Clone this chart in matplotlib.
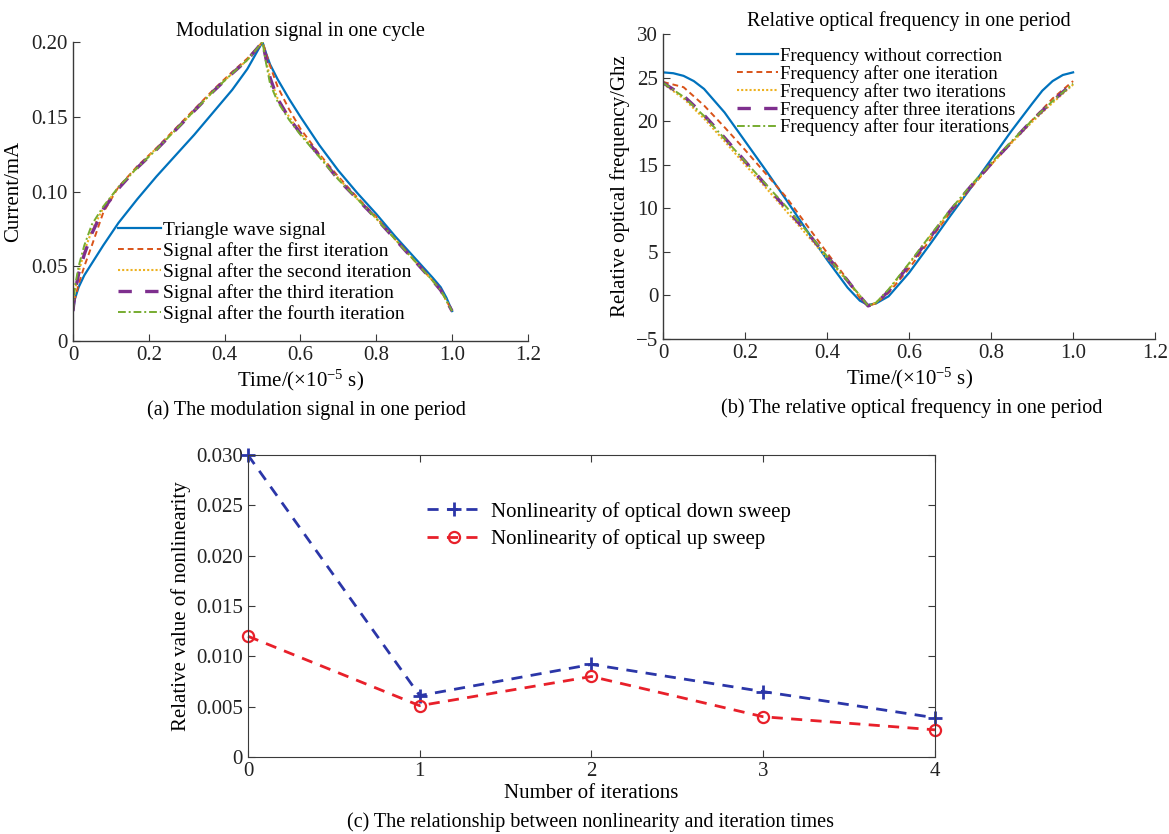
import matplotlib
matplotlib.use('Agg')
import matplotlib.pyplot as plt

plt.rcParams['font.family'] = ['Liberation Serif', 'DejaVu Serif']
plt.rcParams['mathtext.default'] = 'regular'
plt.rcParams['axes.unicode_minus'] = True

# (a) modulation signal, time in 1e-5 s
t_up = [0, 0.005, 0.015, 0.03, 0.05, 0.08, 0.12, 0.17, 0.22, 0.27, 0.32, 0.37, 0.42, 0.46, 0.5]
t_down = [0.51, 0.52, 0.54, 0.57, 0.6, 0.65, 0.7, 0.75, 0.8, 0.85, 0.9, 0.95, 0.97, 0.985, 1.0]
time_a = t_up + t_down

tri_wave = [0.020, 0.028, 0.036, 0.044, 0.052, 0.064, 0.079, 0.095, 0.110, 0.124, 0.138, 0.153, 0.168, 0.182, 0.200,
            0.192, 0.185, 0.175, 0.162, 0.150, 0.131, 0.114, 0.099, 0.085, 0.070, 0.056, 0.042, 0.036, 0.029, 0.020]
iter1 = [0.020, 0.028, 0.038, 0.050, 0.064, 0.086, 0.103, 0.117, 0.129, 0.142, 0.155, 0.168, 0.180, 0.189, 0.200,
         0.192, 0.184, 0.170, 0.155, 0.142, 0.125, 0.110, 0.096, 0.083, 0.068, 0.054, 0.040, 0.034, 0.027, 0.020]
iter2 = [0.020, 0.033, 0.046, 0.060, 0.074, 0.089, 0.103, 0.116, 0.129, 0.141, 0.154, 0.167, 0.179, 0.188, 0.200,
         0.187, 0.176, 0.162, 0.150, 0.139, 0.124, 0.109, 0.095, 0.082, 0.068, 0.054, 0.040, 0.034, 0.027, 0.020]
iter3 = [0.020, 0.032, 0.045, 0.058, 0.072, 0.088, 0.102, 0.116, 0.128, 0.141, 0.154, 0.167, 0.179, 0.188, 0.200,
         0.188, 0.176, 0.162, 0.149, 0.139, 0.124, 0.108, 0.095, 0.082, 0.068, 0.054, 0.040, 0.034, 0.027, 0.020]
iter4 = [0.020, 0.036, 0.050, 0.064, 0.078, 0.090, 0.103, 0.116, 0.128, 0.141, 0.154, 0.167, 0.179, 0.188, 0.200,
         0.185, 0.172, 0.160, 0.148, 0.138, 0.123, 0.108, 0.095, 0.082, 0.068, 0.054, 0.040, 0.034, 0.027, 0.020]

# (b) relative optical frequency, GHz
time_b0 = [0, 0.025, 0.05, 0.075, 0.1, 0.15, 0.2, 0.25, 0.3, 0.35, 0.4, 0.45, 0.48, 0.5, 0.52, 0.55,
           0.6, 0.65, 0.7, 0.75, 0.8, 0.85, 0.9, 0.925, 0.95, 0.975, 1.0]
freq0 = [25.6, 25.5, 25.2, 24.6, 23.7, 21.0, 17.7, 14.4, 11.0, 7.5, 4.1, 0.9, -0.6, -1.1, -0.9, -0.1,
         2.6, 5.8, 9.1, 12.3, 15.6, 18.9, 22.0, 23.5, 24.6, 25.3, 25.6]
time_b = [0, 0.05, 0.1, 0.15, 0.2, 0.25, 0.3, 0.35, 0.4, 0.45, 0.48, 0.5, 0.52, 0.55,
          0.6, 0.65, 0.7, 0.75, 0.8, 0.85, 0.9, 0.95, 1.0]
freq1 = [24.5, 23.9, 21.8, 19.3, 16.7, 14.0, 11.3, 8.1, 4.9, 1.8, -0.3, -1.2, -0.9, 0.3,
         3.1, 6.3, 9.5, 12.3, 15.0, 17.6, 20.1, 22.6, 24.6]
freq2 = [24.3, 22.6, 20.3, 17.7, 15.0, 12.4, 9.7, 7.0, 4.3, 1.6, 0.0, -1.2, -0.8, 0.6,
         3.6, 6.7, 9.6, 12.4, 15.0, 17.5, 19.9, 22.1, 24.2]
freq3 = [24.4, 22.9, 20.7, 18.1, 15.4, 12.7, 10.0, 7.3, 4.5, 1.7, -0.1, -1.2, -0.9, 0.5,
         3.5, 6.6, 9.7, 12.5, 15.1, 17.6, 20.1, 22.3, 24.4]
freq4 = [24.4, 22.8, 20.6, 18.0, 15.4, 12.8, 10.2, 7.4, 4.5, 1.7, 0.0, -1.2, -0.8, 0.7,
         3.7, 6.8, 9.8, 12.6, 15.2, 17.7, 20.1, 22.3, 24.3]

# (c) nonlinearity vs iterations
iterations = [0, 1, 2, 3, 4]
down_sweep = [0.0300, 0.0061, 0.0092, 0.0065, 0.0039]
up_sweep = [0.0120, 0.0051, 0.0080, 0.0040, 0.0027]

c_blue = '#0072BD'
c_red = '#D95319'
c_yel = '#EDB120'
c_pur = '#7E2F8E'
c_grn = '#77AC30'
axcol = '#3a3a3a'

fig = plt.figure(figsize=(11.69, 8.34), dpi=100)


def style_open(ax):
    ax.spines['top'].set_visible(False)
    ax.spines['right'].set_visible(False)
    for s in ['left', 'bottom']:
        ax.spines[s].set_color(axcol)
        ax.spines[s].set_linewidth(1.0)
    ax.tick_params(direction='in', length=5, colors=axcol, labelsize=15, labelcolor='#222222')


# Plot (a)
ax1 = fig.add_axes([0.0624, 0.5911, 0.3892, 0.3585])
ax1.plot(time_a, tri_wave, color=c_blue, lw=1.6, label='Triangle wave signal')
ax1.plot(time_a, iter1, color=c_red, lw=1.4, ls=(0, (3, 2)), label='Signal after the first iteration')
ax1.plot(time_a, iter2, color=c_yel, lw=1.5, ls=(0, (1, 1)), label='Signal after the second iteration')
ax1.plot(time_a, iter3, color=c_pur, lw=2.4, ls=(0, (4, 4)), label='Signal after the third iteration')
ax1.plot(time_a, iter4, color=c_grn, lw=1.4, ls=(0, (4, 1.5, 1, 1.5)), label='Signal after the fourth iteration')
ax1.set_xlim(0, 1.2)
ax1.set_ylim(0, 0.2)
ax1.set_xticks([0, 0.2, 0.4, 0.6, 0.8, 1.0, 1.2])
ax1.set_xticklabels(['0', '0.2', '0.4', '0.6', '0.8', '1.0', '1.2'])
ax1.set_yticks([0, 0.05, 0.10, 0.15, 0.20])
ax1.set_yticklabels(['0', '0.05', '0.10', '0.15', '0.20'])
style_open(ax1)
ax1.set_xlabel('Time/(×10$^{-5}$ s)', fontsize=15, labelpad=2)
ax1.set_ylabel('Current/mA', fontsize=15, labelpad=6)
ax1.set_title('Modulation signal in one cycle', fontsize=14.5, pad=4)
ax1.legend(loc='upper left', bbox_to_anchor=(0.10, 0.40), frameon=False, fontsize=14,
           handlelength=2.2, handletextpad=0.1, labelspacing=0.16, borderpad=0, borderaxespad=0)

# Plot (b)
ax2 = fig.add_axes([0.5672, 0.5935, 0.4209, 0.3657])
ax2.plot(time_b0, freq0, color=c_blue, lw=1.6, label='Frequency without correction')
ax2.plot(time_b, freq1, color=c_red, lw=1.4, ls=(0, (3, 2)), label='Frequency after one iteration')
ax2.plot(time_b, freq2, color=c_yel, lw=1.5, ls=(0, (1, 1)), label='Frequency after two iterations')
ax2.plot(time_b, freq3, color=c_pur, lw=2.4, ls=(0, (4, 4)), label='Frequency after three iterations')
ax2.plot(time_b, freq4, color=c_grn, lw=1.4, ls=(0, (4, 1.5, 1, 1.5)), label='Frequency after four iterations')
ax2.set_xlim(0, 1.2)
ax2.set_ylim(-5, 30)
ax2.set_xticks([0, 0.2, 0.4, 0.6, 0.8, 1.0, 1.2])
ax2.set_xticklabels(['0', '0.2', '0.4', '0.6', '0.8', '1.0', '1.2'])
ax2.set_yticks([-5, 0, 5, 10, 15, 20, 25, 30])
style_open(ax2)
ax2.set_xlabel('Time/(×10$^{-5}$ s)', fontsize=15, labelpad=2)
ax2.set_ylabel('Relative optical frequency/Ghz', fontsize=15, labelpad=4)
ax2.set_title('Relative optical frequency in one period', fontsize=14.5, pad=6)
ax2.legend(loc='upper left', bbox_to_anchor=(0.15, 0.955), frameon=False, fontsize=13.5,
           handlelength=2.2, handletextpad=0.1, labelspacing=0.0, borderpad=0, borderaxespad=0)

# Plot (c)
ax3 = fig.add_axes([0.2121, 0.0923, 0.5877, 0.3621])
ax3.plot(iterations, down_sweep, color='#2b36a8', lw=2.0, ls=(0, (4, 3)), marker='+', ms=10, mew=2,
         label='Nonlinearity of optical down sweep')
ax3.plot(iterations, up_sweep, color='#e8202a', lw=2.0, ls=(0, (4, 3)), marker='o', ms=8, mew=1.6,
         mfc='none', label='Nonlinearity of optical up sweep')
ax3.set_xlim(0, 4)
ax3.set_ylim(0, 0.03)
ax3.set_xticks(iterations)
ax3.set_yticks([0, 0.005, 0.010, 0.015, 0.020, 0.025, 0.030])
ax3.set_yticklabels(['0', '0.005', '0.010', '0.015', '0.020', '0.025', '0.030'])
for s in ax3.spines.values():
    s.set_color(axcol)
ax3.tick_params(direction='in', length=5, top=True, right=True, colors=axcol,
                labelsize=15, labelcolor='#222222')
ax3.set_xlabel('Number of iterations', fontsize=15, labelpad=2)
ax3.set_ylabel('Relative value of nonlinearity', fontsize=15, labelpad=4)
ax3.legend(loc='upper left', bbox_to_anchor=(0.26, 0.845), frameon=False, fontsize=15,
           handlelength=2.6, handletextpad=0.5, labelspacing=0.35, borderpad=0, borderaxespad=0)
for ln in ax3.get_lines():
    ln.set_clip_on(False)

# captions
fig.text(0.262, 0.508, '(a) The modulation signal in one period', fontsize=14.5, ha='center', va='center')
fig.text(0.780, 0.511, '(b) The relative optical frequency in one period', fontsize=14.5, ha='center', va='center')
fig.text(0.505, 0.014, '(c) The relationship between nonlinearity and iteration times', fontsize=14.5,
         ha='center', va='center')

fig.savefig('out.png', dpi=100)
